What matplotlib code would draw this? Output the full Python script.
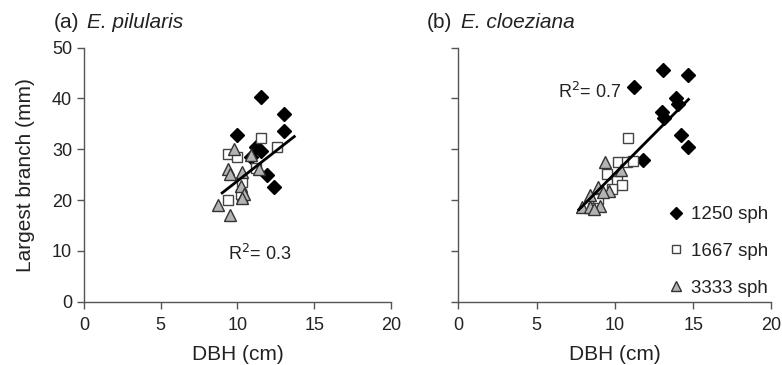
import matplotlib
matplotlib.use("Agg")
import matplotlib.pyplot as plt
import numpy as np

plt.rcParams["font.family"] = ["Liberation Sans", "DejaVu Sans"]

# ---------------------------------------------------------------------------
# data: DBH (cm) vs largest branch (mm)
# ---------------------------------------------------------------------------

# (a) E. pilularis
a_1250_x = [10.0, 11.5, 13.0, 13.0, 11.2, 11.5, 10.9, 11.9, 12.4]
a_1250_y = [32.8, 40.3, 37.0, 33.6, 30.4, 29.6, 28.5, 24.9, 22.6]
a_1667_x = [9.4, 10.0, 11.5, 12.6, 9.4, 10.3, 10.3, 11.2, 10.2]
a_1667_y = [29.0, 28.5, 32.3, 30.4, 20.1, 23.5, 20.5, 26.4, 21.2]
a_3333_x = [9.8, 10.9, 9.4, 9.5, 10.3, 10.2, 10.4, 8.75, 9.5, 11.4, 10.3]
a_3333_y = [30.0, 28.9, 26.1, 25.1, 25.5, 22.8, 21.2, 19.1, 17.1, 26.1, 20.5]
a_fit_x = [9.0, 13.7]
a_fit_y = [21.4, 32.5]

# (b) E. cloeziana
b_1250_x = [11.2, 13.05, 14.7, 13.0, 13.15, 13.9, 14.05, 14.2, 14.7, 11.8]
b_1250_y = [42.3, 45.6, 44.7, 37.3, 36.2, 40.1, 39.0, 32.9, 30.5, 27.8]
b_1667_x = [10.85, 10.2, 10.8, 11.15, 9.5, 10.15, 10.45, 9.85, 8.95, 8.6]
b_1667_y = [32.3, 27.4, 27.4, 27.6, 25.1, 23.8, 22.9, 22.2, 20.3, 18.4]
b_3333_x = [9.4, 10.4, 9.65, 8.9, 8.4, 7.9, 8.4, 9.05, 8.65, 9.25]
b_3333_y = [27.4, 26.0, 21.7, 22.6, 20.9, 18.6, 18.6, 18.9, 18.3, 21.6]
b_fit_x = [7.7, 14.7]
b_fit_y = [18.1, 39.8]

series_labels = ["1250 sph", "1667 sph", "3333 sph"]
x_ticks = [0, 5, 10, 15, 20]
y_ticks = [0, 10, 20, 30, 40, 50]

DIAMOND = dict(marker="D", ms=7.2, mfc="black", mec="black", ls="none")
SQUARE = dict(marker="s", ms=7.2, mfc="white", mec="#444444", mew=1.0, ls="none")
TRIANGLE = dict(marker="^", ms=8.2, mfc="#b3b3b3", mec="#333333", mew=1.0, ls="none")


def style_axes(ax, show_ylabels=True):
    ax.set_xlim(0, 20)
    ax.set_ylim(0, 50)
    ax.set_xticks(x_ticks)
    ax.set_yticks(y_ticks)
    if not show_ylabels:
        ax.set_yticklabels([])
    for side in ("top", "right"):
        ax.spines[side].set_visible(False)
    for side in ("left", "bottom"):
        ax.spines[side].set_color("#555555")
        ax.spines[side].set_linewidth(1.0)
    ax.tick_params(direction="out", length=5, width=1.0, color="#555555",
                   labelsize=13, labelcolor="#222222")
    ax.tick_params(axis="x", pad=6)
    ax.set_xlabel("DBH (cm)", fontsize=15, color="#222222", labelpad=8)


def panel_title(ax, tag, species):
    t = ax.text(-0.1, 1.06, tag, transform=ax.transAxes, fontsize=15,
                color="#222222", ha="left", va="bottom")
    ax.annotate(species, xy=(1, 0), xycoords=t, xytext=(6, 0),
                textcoords="offset points", fontsize=15, style="italic",
                color="#222222", ha="left", va="bottom")


fig = plt.figure(figsize=(7.82, 3.65), dpi=100)
ax_a = fig.add_axes([0.1074, 0.1735, 0.3926, 0.696])
ax_b = fig.add_axes([0.586, 0.1735, 0.4005, 0.696])

# (a)
ax_a.plot(a_1250_x, a_1250_y, **DIAMOND)
ax_a.plot(a_1667_x, a_1667_y, **SQUARE)
ax_a.plot(a_3333_x, a_3333_y, **TRIANGLE)
ax_a.plot(a_fit_x, a_fit_y, color="black", lw=2.0)
ax_a.text(9.4, 9.4, "R$^2$= 0.3", fontsize=13, color="#222222", va="center")
style_axes(ax_a)
ax_a.set_ylabel("Largest branch (mm)", fontsize=15, color="#222222", labelpad=12)
panel_title(ax_a, "(a)", "E. pilularis")

# (b)
h1, = ax_b.plot(b_1250_x, b_1250_y, label=series_labels[0], **DIAMOND)
h2, = ax_b.plot(b_1667_x, b_1667_y, label=series_labels[1], **SQUARE)
h3, = ax_b.plot(b_3333_x, b_3333_y, label=series_labels[2], **TRIANGLE)
ax_b.plot(b_fit_x, b_fit_y, color="black", lw=2.0)
ax_b.text(6.4, 41.2, "R$^2$= 0.7", fontsize=13, color="#222222", va="center")
style_axes(ax_b, show_ylabels=False)
panel_title(ax_b, "(b)", "E. cloeziana")

leg = ax_b.legend(handles=[h1, h2, h3], loc="lower right",
                  bbox_to_anchor=(1.025, -0.025), frameon=False, fontsize=13.5,
                  handlelength=0.7, handletextpad=0.45, labelspacing=1.05,
                  markerscale=0.8, borderaxespad=0.2)
for txt in leg.get_texts():
    txt.set_color("#222222")

fig.savefig("out.png", dpi=100)
